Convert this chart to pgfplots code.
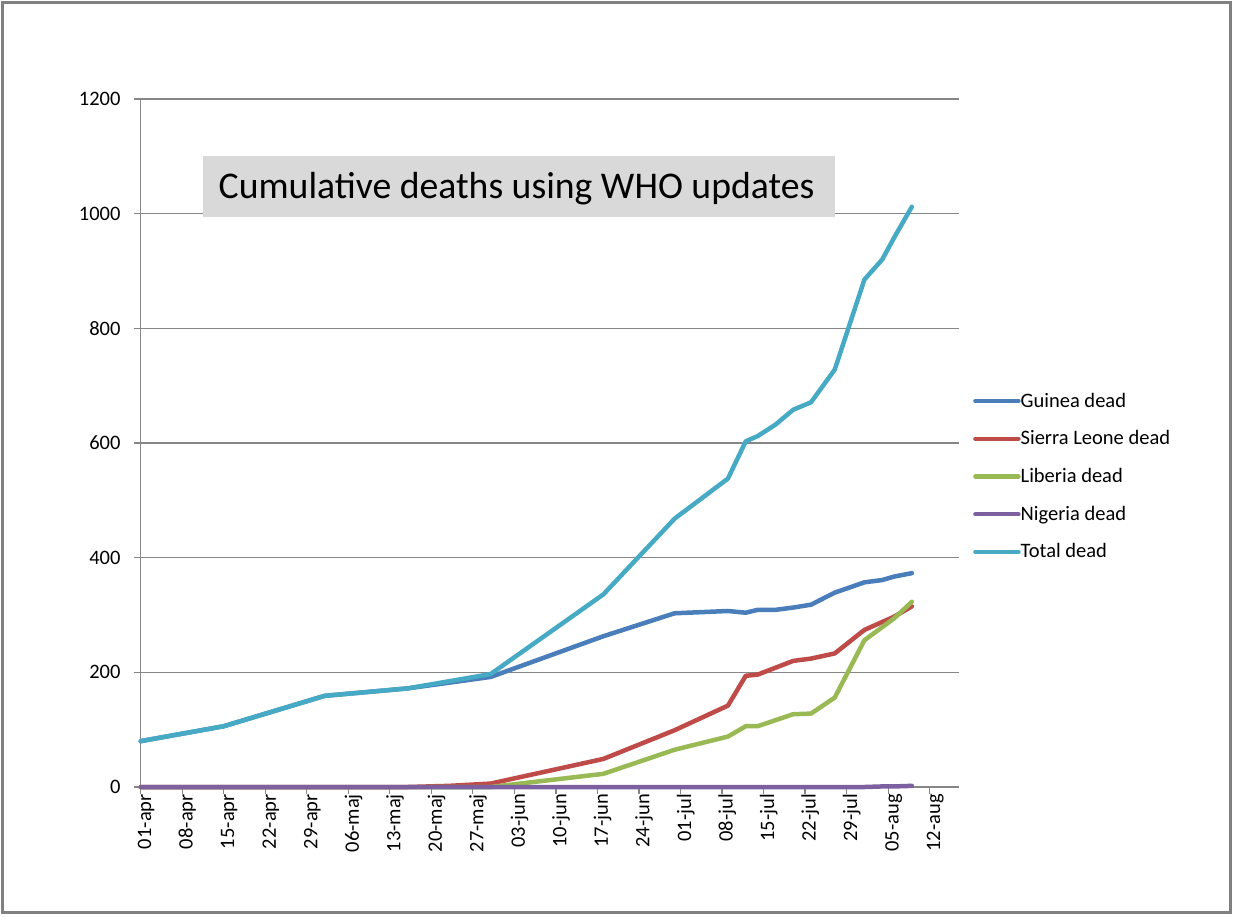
\documentclass[border=0pt]{standalone}
\usepackage{fontspec}
\setmainfont{Carlito}
\usepackage{pgfplots}
\pgfplotsset{compat=1.18}
\definecolor{cGuinea}{RGB}{74,126,187}
\definecolor{cSL}{RGB}{190,75,72}
\definecolor{cLib}{RGB}{152,185,84}
\definecolor{cNig}{RGB}{125,96,160}
\definecolor{cTot}{RGB}{70,170,197}
\definecolor{gridgray}{RGB}{134,134,134}
\definecolor{bordergray}{RGB}{128,128,128}
\definecolor{titlebg}{RGB}{217,217,217}
\begin{document}
\begin{tikzpicture}
\useasboundingbox (0pt,0pt) rectangle (1234pt,-916pt);
\begin{axis}[
  at={(140.7pt,-787pt)}, anchor=south west,
  scale only axis, width=818.6pt, height=688pt,
  xmin=0, xmax=138, ymin=0, ymax=1200,
  axis x line*=bottom, axis y line*=left,
  axis line style={gridgray, line width=1.2pt},
  xtick={0,7,...,133},
  xticklabels={01-apr,08-apr,15-apr,22-apr,29-apr,06-maj,13-maj,20-maj,27-maj,03-jun,10-jun,17-jun,24-jun,01-jul,08-jul,15-jul,22-jul,29-jul,05-aug,12-aug},
  ytick={0,200,...,1200},
  tick align=outside, major tick length=7pt,
  tick style={gridgray, line width=1.2pt},
  ymajorgrids, grid style={gridgray, line width=1.2pt},
  xticklabel style={rotate=90, anchor=east, inner sep=0pt, text height=13pt, text depth=0pt, font=\fontsize{20.5}{24}\selectfont, yshift=-4pt},
  yticklabel style={anchor=east, inner sep=0pt, font=\fontsize{20.5}{24}\selectfont, xshift=-13pt},
  /pgf/number format/assume math mode=true,
  /pgf/number format/1000 sep={},
  clip=false,
  every axis plot/.append style={line width=4.5pt, line join=round, line cap=round},
  legend cell align=left,
  legend image code/.code={\draw[#1, line width=4.5pt, line cap=round] (2pt,-0.5pt) -- (40pt,-0.5pt);
    \path (-0.25pt,-0.5pt) -- (42.75pt,-0.5pt);},
  legend style={at={(1.0167,0.452)}, anchor=west, draw=none, fill=none, inner sep=0pt,
    row sep=16.7pt, font=\fontsize{20.5}{24}\selectfont,
    nodes={inner sep=0pt, text height=17pt, text depth=4pt}},
]
\addplot[cGuinea] coordinates {
(0,80) (14,106) (31,159) (45,172) (59,192) (78,263) (90,303) (99,307) (102,304) (104,309) (107,309) (110,313) (113,318) (117,339) (122,357) (125,361) (127,367) (130,373)};
\addlegendentry{Guinea dead}
\addplot[cSL] coordinates {
(0,0) (45,0) (52,2) (59,6) (78,49) (90,99) (99,142) (102,194) (104,196) (110,220) (113,224) (117,233) (122,274) (127,297) (130,315)};
\addlegendentry{Sierra Leone dead}
\addplot[cLib] coordinates {
(0,0) (59,0) (78,23) (90,65) (99,88) (102,106) (104,106) (110,127) (113,128) (117,156) (122,256) (127,294) (130,323)};
\addlegendentry{Liberia dead}
\addplot[cNig] coordinates {
(0,0) (122,0) (125,1) (127,1) (130,2)};
\addlegendentry{Nigeria dead}
\addplot[cTot] coordinates {
(0,80) (14,106) (31,159) (45,172) (59,197) (78,336) (90,468) (99,538) (102,603) (104,612) (107,632) (110,658) (113,671) (117,728) (122,885) (125,920) (127,958) (130,1012)};
\addlegendentry{Total dead}
\end{axis}
\fill[titlebg] (203pt,-156pt) rectangle (835pt,-217pt);
\node[anchor=base west, inner sep=0pt, font=\fontsize{37.7}{42}\selectfont] at (218.5pt,-198.3pt) {Cumulative deaths using WHO updates};
\draw[bordergray, line width=3pt] (2.5pt,-2.5pt) rectangle (1230.5pt,-912.5pt);
\end{tikzpicture}
\end{document}
